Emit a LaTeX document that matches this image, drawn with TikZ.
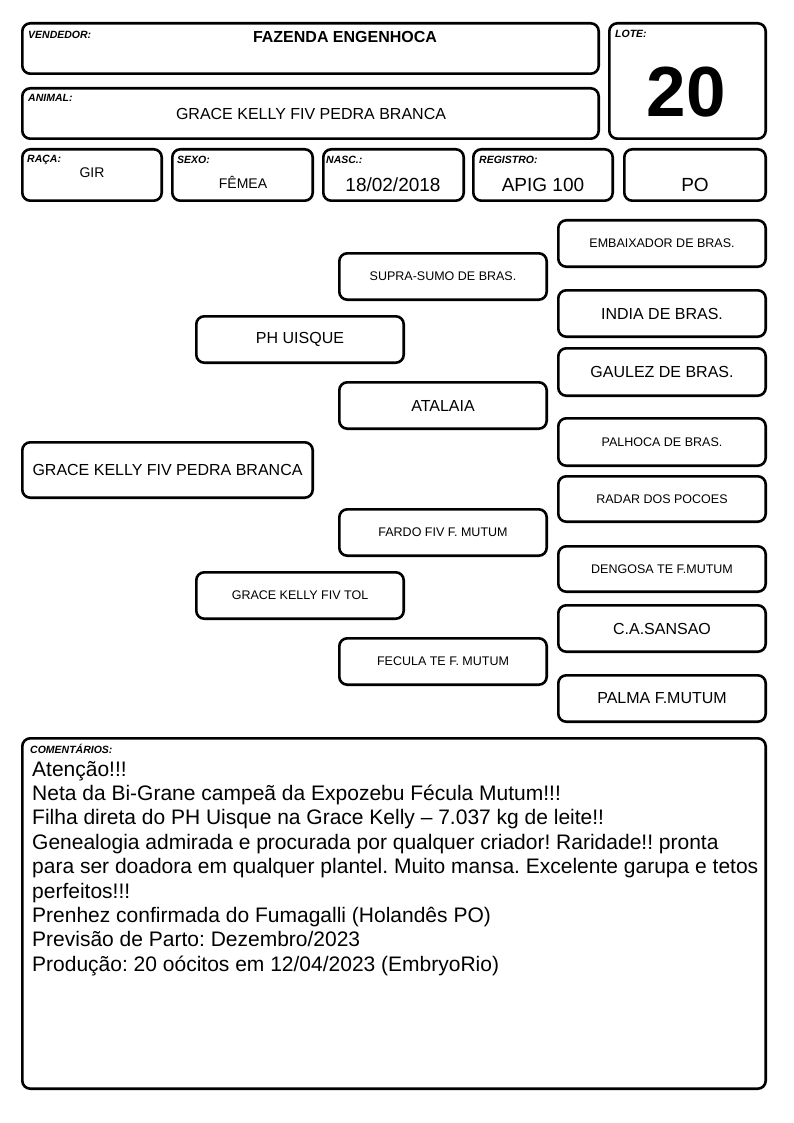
\documentclass[tikz,border=0pt]{standalone}
\usepackage{fontspec}
\setmainfont{Liberation Sans}
\frenchspacing
\newcommand\fs[1]{\fontsize{#1}{#1}\selectfont}
\newcommand\bx[7]{\node[box,minimum width={#4pt-#2pt-2.6pt},minimum height={#5pt-#3pt-2.6pt},font=#6] (#1) at ({(#2+#4)/2},{(#3+#5)/2}) {#7};}
\tikzset{
  box/.style={draw=black,line width=2.6pt,rounded corners=8pt,inner sep=0pt,align=center},
  lbl/.style={anchor=base west,inner sep=0pt,font=\fs{10.5}\bfseries\itshape},
  val/.style={anchor=base,inner sep=0pt},
}
\begin{document}
\begin{tikzpicture}[x=1pt,y=-1pt]
\useasboundingbox[fill=white] (0,0) rectangle (794,1123);
% header boxes
\bx{vend}{21}{22}{600}{75}{\fs{16}}{}
\bx{lote}{608}{22}{767}{140}{\fs{16}}{}
\bx{anim}{21}{87}{600}{140}{\fs{16}}{}
\bx{raca}{21}{148}{163}{202}{\fs{14}}{}
\bx{sexo}{171}{148}{314}{202}{\fs{14}}{}
\bx{nasc}{322}{148}{465}{202}{\fs{19}}{}
\bx{reg}{472}{148}{614}{202}{\fs{19}}{}
\bx{po}{623}{148}{767}{202}{\fs{19}}{}
% labels
\node[lbl] (lvend) at (28,39) {VENDEDOR:};
\node[lbl] (llote) at (615,38) {LOTE:};
\node[lbl] (lanim) at (28,102) {ANIMAL:};
\node[lbl] (lraca) at (27,163) {RAÇA:};
\node[lbl] (lsexo) at (177,164) {SEXO:};
\node[lbl] (lnasc) at (326,164) {NASC.:};
\node[lbl] (lreg) at (479,164) {REGISTRO:};
% values
\node[val,font=\fs{16}\bfseries] (vvend) at (345,43) {FAZENDA ENGENHOCA};
\node[val,font=\fs{71}\bfseries] (vlote) at (686,117) {20};
\node[val,font=\fs{16}] (vanim) at (311,120) {GRACE KELLY FIV PEDRA BRANCA};
\node[val,font=\fs{14}] (vraca) at (92,178) {GIR};
\node[val,font=\fs{14}] (vsexo) at (243,189) {FÊMEA};
\node[val,font=\fs{19}] (vnasc) at (393,192) {18/02/2018};
\node[val,font=\fs{19}] (vreg) at (543,192) {APIG 100};
\node[val,font=\fs{19}] (vpo) at (695,192) {PO};
% pedigree
\bx{embaixador}{557}{219}{767}{268}{\fs{12.5}}{EMBAIXADOR DE BRAS.}
\bx{supra}{338}{252}{548}{301}{\fs{12.5}}{SUPRA-SUMO DE BRAS.}
\bx{india}{557}{289}{767}{338}{\fs{16}}{INDIA DE BRAS.}
\bx{ph}{195}{315}{405}{364}{\fs{16}}{PH UISQUE}
\bx{gaulez}{557}{347}{767}{397}{\fs{16}}{GAULEZ DE BRAS.}
\bx{atalaia}{338}{381}{548}{430}{\fs{16}}{ATALAIA}
\bx{palhoca}{557}{417}{767}{467}{\fs{12.5}}{PALHOCA DE BRAS.}
\bx{grace}{21}{441}{314}{499}{\fs{16}}{GRACE KELLY FIV PEDRA BRANCA}
\bx{radar}{557}{475}{767}{523}{\fs{12.5}}{RADAR DOS POCOES}
\bx{fardo}{338}{508}{548}{557}{\fs{12.5}}{FARDO FIV F. MUTUM}
\bx{dengosa}{557}{545}{767}{593}{\fs{12.5}}{DENGOSA TE F.MUTUM}
\bx{tol}{195}{571}{405}{620}{\fs{12.5}}{GRACE KELLY FIV TOL}
\bx{sansao}{557}{604}{767}{653}{\fs{16}}{C.A.SANSAO}
\bx{fecula}{338}{637}{548}{686}{\fs{12.5}}{FECULA TE F. MUTUM}
\bx{palma}{557}{674}{767}{723}{\fs{16}}{PALMA F.MUTUM}
% comments
\bx{coment}{21}{737}{767}{1090}{\fs{16}}{}
\node[lbl] (lcoment) at (30,753) {COMENTÁRIOS:};
\node[anchor=base west,inner sep=0pt] (tcoment) at (32,776) {\begin{minipage}[t]{730pt}\raggedright\fontsize{21}{24.4}\selectfont Atenção!!!\\
Neta da Bi-Grane campeã da Expozebu Fécula Mutum!!!\\
Filha direta do PH Uisque na Grace Kelly – 7.037 kg de leite!!\\
Genealogia admirada e procurada por qualquer criador! Raridade!! pronta\\
para ser doadora em qualquer plantel. Muito mansa. Excelente garupa e tetos\\
perfeitos!!!\\
Prenhez confirmada do Fumagalli (Holandês PO)\\
Previsão de Parto: Dezembro/2023\\
Produção: 20 oócitos em 12/04/2023 (EmbryoRio)\end{minipage}};
\end{tikzpicture}
\end{document}
